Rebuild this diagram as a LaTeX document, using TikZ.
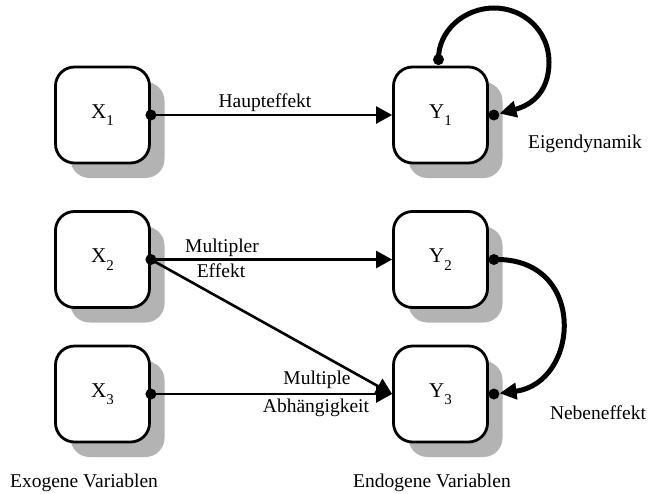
\documentclass[tikz,border=0pt]{standalone}
\usepackage{fontspec}
\setmainfont{Liberation Serif}
\newfontfamily\lser{Liberation Serif}
\usetikzlibrary{arrows.meta,shadows}
\definecolor{shade}{RGB}{179,179,179}
\newcommand{\sbx}[1]{\raisebox{-0.35em}{\fontsize{15}{15}\selectfont #1}}
\begin{document}
\begin{tikzpicture}[x=1pt,y=-1pt,
 box/.style={draw, line width=2.8pt, rounded corners=19pt, fill=white,
   minimum width=94pt, minimum height=96pt, inner sep=0pt,
   font=\lser\fontsize{21}{24}\selectfont,
   general shadow={shadow xshift=15pt, shadow yshift=-15pt, fill=shade, draw=none}},
 lbl/.style={font=\lser\fontsize{19.5}{22}\selectfont, inner sep=0pt, anchor=base},
 straightarrow/.style={line width=2.6pt, -{Triangle[length=16pt,width=17pt]}},
 curvearrow/.style={line width=5pt, -{Triangle[length=17pt,width=16pt]}},
 dotnode/.style={circle, fill, inner sep=0pt, minimum size=11pt}]
\useasboundingbox (0,0) rectangle (653,493);

\node[box] (X1) at (102.5,115) {X\sbx{1}};
\node[box] (X2) at (102.5,259.5) {X\sbx{2}};
\node[box] (X3) at (102.5,394) {X\sbx{3}};
\node[box] (Y1) at (440.5,115) {Y\sbx{1}};
\node[box] (Y2) at (440.5,259.5) {Y\sbx{2}};
\node[box] (Y3) at (440.5,394) {Y\sbx{3}};

\node[dotnode] (x1e) at (X1.east) {};
\node[dotnode] (x2e) at (X2.east) {};
\node[dotnode] (x3e) at (X3.east) {};
\node[dotnode] (y1n) at ([xshift=-2pt,yshift=6pt]Y1.north) {};
\node[dotnode] (y1e) at ([xshift=5pt]Y1.east) {};
\node[dotnode] (y2e) at ([xshift=5pt]Y2.east) {};
\node[dotnode] (y3e) at ([xshift=5pt]Y3.east) {};

\draw[straightarrow] (x1e.center) -- (Y1.west);
\draw[straightarrow] (x2e.center) -- (Y2.west);
\draw[straightarrow] (x2e.center) -- (Y3.west);
\draw[straightarrow] (x3e.center) -- (Y3.west);

\draw[curvearrow] (y1n.center) .. controls (438,31) and (464,8) .. (494,8)
  .. controls (524,8) and (549,31) .. (549,62)
  .. controls (549,95) and (528,106) .. (y1e);
\draw[curvearrow] (y2e.center) .. controls (588,257) and (580,383) .. (y3e);

\node[lbl] (l1) at (265,107) {Haupteffekt};
\node[lbl] (l2) at (585,148) {Eigendynamik};
\node[lbl] (l3) at (222,252) {Multipler};
\node[lbl] (l4) at (221,277) {Effekt};
\node[lbl] (l5) at (317,384) {Multiple};
\node[lbl] (l6) at (316,412) {Abhängigkeit};
\node[lbl] (l7) at (598,419) {Nebeneffekt};
\node[lbl] (l8) at (84,487) {Exogene Variablen};
\node[lbl] (l9) at (432,487) {Endogene Variablen};
\end{tikzpicture}
\end{document}
